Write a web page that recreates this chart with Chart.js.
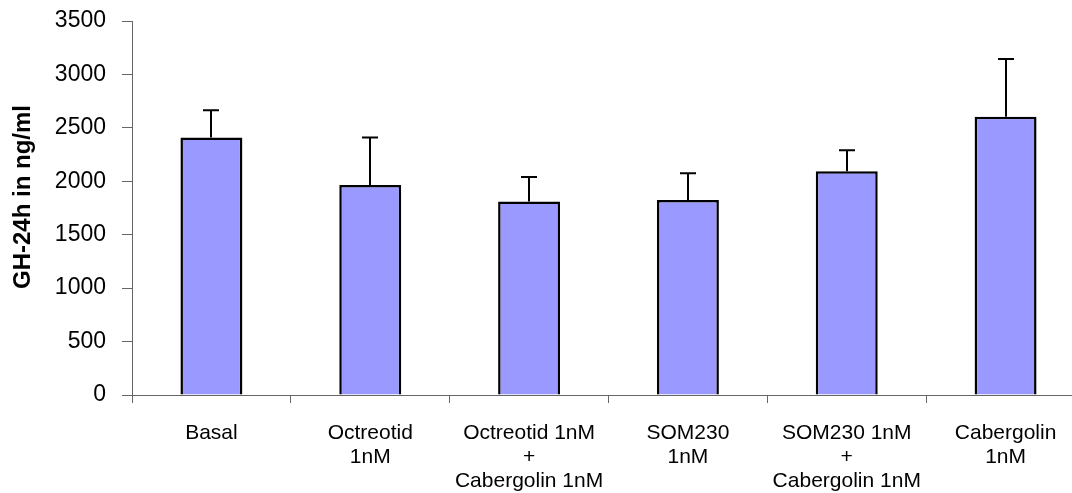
<!DOCTYPE html>
<html>
<head>
<meta charset="utf-8">
<script src="https://cdn.jsdelivr.net/npm/chart.js@4.4.0/dist/chart.umd.min.js"></script>
<style>
  html, body { margin: 0; padding: 0; background: #fff; overflow: hidden; }
  #wrap { width: 1100px; height: 493px; }
</style>
</head>
<body>
<div id="wrap"><canvas id="ghChart" width="1100" height="493"></canvas></div>
<script>
// GH secretion after 24h, mean + SEM
const groups = [
  'Basal',
  ['Octreotid', '1nM'],
  ['Octreotid 1nM', '+', 'Cabergolin 1nM'],
  ['SOM230', '1nM'],
  ['SOM230 1nM', '+', 'Cabergolin 1nM'],
  ['Cabergolin', '1nM']
];
const ghMean = [2410, 1965, 1810, 1825, 2095, 2605];
const ghSem = [255, 445, 230, 250, 195, 540];
const yTicks = [0, 500, 1000, 1500, 2000, 2500, 3000, 3500];
const yTitle = 'GH-24h in ng/ml';

const font = "'Liberation Sans', Arial, sans-serif";

// upward-only error whiskers with a small cap
const errorBars = {
  id: 'errorBars',
  afterDatasetsDraw(chart) {
    const ctx = chart.ctx;
    const meta = chart.getDatasetMeta(0);
    const y = chart.scales.y;
    ctx.save();
    ctx.strokeStyle = '#000';
    ctx.lineWidth = 2;
    meta.data.forEach((bar, i) => {
      const top = y.getPixelForValue(ghMean[i]);
      const end = y.getPixelForValue(ghMean[i] + ghSem[i]);
      const x = Math.round(bar.x);
      ctx.beginPath();
      ctx.moveTo(x, top);
      ctx.lineTo(x, end);
      ctx.moveTo(x - 8, end);
      ctx.lineTo(x + 8, end);
      ctx.stroke();
    });
    ctx.restore();
  }
};

// y title sits a bit above the middle of the axis
const axisTitle = {
  id: 'axisTitle',
  afterDraw(chart) {
    const ctx = chart.ctx;
    const area = chart.chartArea;
    ctx.save();
    ctx.translate(23, (area.top + area.bottom) / 2 - 11);
    ctx.rotate(-Math.PI / 2);
    ctx.font = `bold 24px ${font}`;
    ctx.fillStyle = '#000';
    ctx.textAlign = 'center';
    ctx.textBaseline = 'middle';
    ctx.fillText(yTitle, 0, 0);
    ctx.restore();
  }
};

new Chart(document.getElementById('ghChart'), {
  type: 'bar',
  data: {
    labels: groups,
    datasets: [{
      data: ghMean,
      backgroundColor: '#9999FF',
      borderColor: '#000',
      borderWidth: 2.5,
      barPercentage: 0.39,
      categoryPercentage: 1
    }]
  },
  options: {
    responsive: false,
    animation: false,
    layout: { padding: { top: 21, right: 15, left: 0, bottom: 0 } },
    plugins: {
      legend: { display: false },
      tooltip: { enabled: false }
    },
    scales: {
      x: {
        grid: { drawOnChartArea: false, tickLength: 8, color: '#666', offset: true },
        border: { color: '#666', width: 1 },
        ticks: {
          color: '#000',
          font: { family: font, size: 21, lineHeight: 1.15 },
          padding: 18,
          maxRotation: 0,
          autoSkip: false
        },
        afterFit: s => { s.height = 98; }
      },
      y: {
        min: 0,
        max: 3500,
        afterBuildTicks: s => { s.ticks = yTicks.map(v => ({ value: v })); },
        grid: { drawOnChartArea: false, tickLength: 10, color: '#666' },
        border: { color: '#666', width: 1 },
        ticks: {
          color: '#000',
          font: { family: font, size: 23 },
          padding: 16,
          callback: v => String(v)
        },
        afterFit: s => {
          s.width = 132;
          s.paddingTop = 0;
          s.paddingBottom = 0;
        }
      }
    }
  },
  plugins: [errorBars, axisTitle]
});
</script>
</body>
</html>
